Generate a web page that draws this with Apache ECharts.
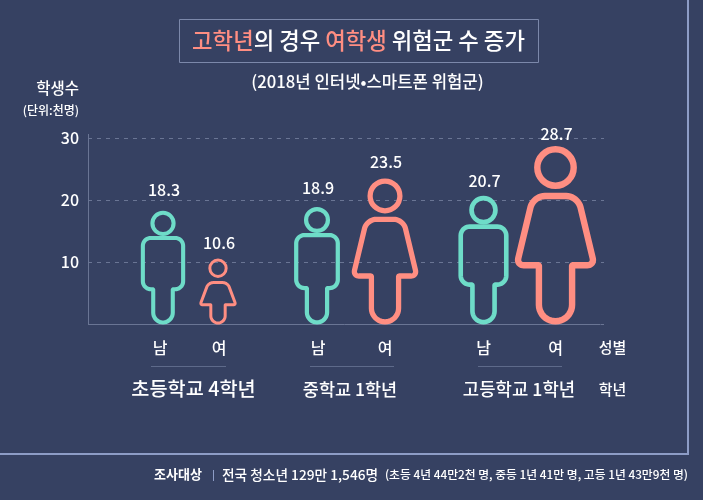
<!DOCTYPE html>
<html>
<head>
<meta charset="utf-8">
<style>
  html, body { margin: 0; padding: 0; background: #364162; }
  #chart { width: 703px; height: 500px; }
</style>
<script src="https://cdn.jsdelivr.net/npm/echarts@6/dist/echarts.min.js"></script>
</head>
<body>
<div id="chart"></div>
<script>
// data
const categories = ["초등 남", "초등 여", "중등 남", "중등 여", "고등 남", "고등 여"];
const genders = ["남", "여", "남", "여", "남", "여"];
const students = [18.3, 10.6, 18.9, 23.5, 20.7, 28.7];
const yTicks = [0, 10, 20, 30];

const FONT = '"Noto Sans CJK KR", "Noto Sans", sans-serif';
const BG = "#364162";
const MALE = "#6edcc8";
const FEMALE = "#ff8e82";
const GRID = "#6a7594";

// figures are not evenly spaced in the picture, so nudge each band center
const figureNudge = [32, 1, 14, -4, 8.5, -5.5];
const genderLabelNudge = [-3, 1, 1, 0, 0, 0];
const valueLabelLift = [21, 16, 19, 16, 15, 12];

// outlines in units of figure height, origin at bottom center, [x, y, cornerRadius]
const MALE_SHAPE = {
  color: MALE,
  head: 0.093,
  body: [
    [-0.086, 0.018, 0.086], [0.086, 0.018, 0.086], [0.086, 0.31, 0.006],
    [0.177, 0.31, 0.07], [0.177, 0.761, 0.07], [-0.177, 0.761, 0.07],
    [-0.177, 0.31, 0.07], [-0.086, 0.31, 0.006]
  ]
};
const FEMALE_SHAPE = {
  color: FEMALE,
  head: 0.102,
  body: [
    [-0.093, 0.018, 0.093], [0.093, 0.018, 0.093], [0.093, 0.332, 0.005],
    [0.218, 0.332, 0.04], [0.125, 0.72, 0.065], [-0.125, 0.72, 0.065],
    [-0.218, 0.332, 0.04], [-0.093, 0.332, 0.005]
  ]
};
// the smallest figure is drawn stockier than the other two
const GIRL_SHAPE = {
  color: FEMALE,
  head: 0.124,
  body: [
    [-0.109, 0.023, 0.109], [0.109, 0.023, 0.109], [0.109, 0.3, 0.008],
    [0.27, 0.3, 0.035], [0.145, 0.636, 0.07], [-0.145, 0.636, 0.07],
    [-0.27, 0.3, 0.035], [-0.109, 0.3, 0.008]
  ]
};
const figureShapes = [MALE_SHAPE, GIRL_SHAPE, MALE_SHAPE, FEMALE_SHAPE, MALE_SHAPE, FEMALE_SHAPE];

function roundedOutline(verts, cx, baseY, h) {
  const pts = [];
  const n = verts.length;
  const P = verts.map(v => [cx + v[0] * h, baseY - v[1] * h, v[2] * h]);
  for (let i = 0; i < n; i++) {
    const p = P[i], a = P[(i + n - 1) % n], b = P[(i + 1) % n];
    const la = Math.hypot(a[0] - p[0], a[1] - p[1]);
    const lb = Math.hypot(b[0] - p[0], b[1] - p[1]);
    const r = p[2];
    const s = [p[0] + (a[0] - p[0]) / la * r, p[1] + (a[1] - p[1]) / la * r];
    const e = [p[0] + (b[0] - p[0]) / lb * r, p[1] + (b[1] - p[1]) / lb * r];
    const c1 = [s[0] + (p[0] - s[0]) * 0.55, s[1] + (p[1] - s[1]) * 0.55];
    const c2 = [e[0] + (p[0] - e[0]) * 0.55, e[1] + (p[1] - e[1]) * 0.55];
    for (let k = 0; k <= 10; k++) {
      const t = k / 10, u = 1 - t;
      pts.push([
        u * u * u * s[0] + 3 * u * u * t * c1[0] + 3 * u * t * t * c2[0] + t * t * t * e[0],
        u * u * u * s[1] + 3 * u * u * t * c1[1] + 3 * u * t * t * c2[1] + t * t * t * e[1]
      ]);
    }
  }
  return pts;
}

function renderFigure(params, api) {
  const i = api.value(0);
  const value = api.value(1);
  const shape = figureShapes[i];
  const top = api.coord([i, value]);
  const baseY = api.coord([i, 0])[1];
  const cx = top[0] + figureNudge[i];
  const h = baseY - top[1];
  const lineWidth = Math.max(3, h * 0.036);
  const headR = shape.head * h;
  return {
    type: "group",
    children: [
      {
        type: "polygon",
        shape: { points: roundedOutline(shape.body, cx, baseY, h) },
        style: { fill: "none", stroke: shape.color, lineWidth: lineWidth }
      },
      {
        type: "circle",
        shape: { cx: cx, cy: top[1] + headR + lineWidth / 2, r: headR },
        style: { fill: "none", stroke: shape.color, lineWidth: lineWidth }
      },
      {
        type: "text",
        x: cx + 1, y: top[1] - valueLabelLift[i],
        style: { text: value.toFixed(1), fill: "#fff", font: "500 16px " + FONT, align: "center", verticalAlign: "middle" }
      },
      {
        type: "text",
        x: cx + genderLabelNudge[i], y: 347.5,
        style: { text: genders[i], fill: "#fff", font: "500 16px " + FONT, align: "center", verticalAlign: "middle" }
      }
    ]
  };
}

function label(text, x, y, size, opt) {
  return {
    type: "text", x: x, y: y,
    style: Object.assign({
      text: text, fill: "#fff", font: "500 " + size + "px " + FONT,
      align: "center", verticalAlign: "middle"
    }, opt || {})
  };
}
function rule(x1, y1, x2, y2, color, width) {
  return {
    type: "line",
    shape: { x1: x1, y1: y1, x2: x2, y2: y2 },
    style: { stroke: color, lineWidth: width || 1 }
  };
}

const chart = echarts.init(document.getElementById("chart"));
chart.setOption({
  backgroundColor: BG,
  animation: false,
  grid: { left: 88, top: 138, width: 516, height: 186.5 },
  xAxis: {
    type: "category",
    data: categories,
    axisLine: { show: false },
    axisTick: { show: false },
    axisLabel: { show: false }
  },
  yAxis: {
    type: "value",
    min: yTicks[0],
    max: yTicks[yTicks.length - 1],
    interval: 10,
    axisLine: { show: true, lineStyle: { color: GRID } },
    axisTick: { show: false },
    axisLabel: {
      color: "#fff",
      fontFamily: FONT,
      fontWeight: 500,
      fontSize: 16,
      margin: 9,
      formatter: v => (v === 0 ? "" : String(v))
    },
    splitLine: { show: true, lineStyle: { color: GRID, type: [4, 5] } }
  },
  series: [
    {
      type: "custom",
      clip: false,
      encode: { x: 0, y: 1 },
      data: students.map((v, i) => [i, v]),
      renderItem: renderFigure,
      z: 5
    }
  ],
  graphic: [
    // frame around the plot
    rule(688, 0, 688, 454, "#8d9cc6", 2),
    rule(0, 454, 689, 454, "#8d9cc6", 2),
    // baseline and top stub of the axis
    rule(88, 324.5, 600.5, 324.5, GRID),
    rule(88.5, 134, 88.5, 138, GRID),
    // title
    {
      type: "rect",
      shape: { x: 179.5, y: 19.5, width: 359, height: 43 },
      style: { fill: "none", stroke: "#7c88aa", lineWidth: 1 }
    },
    {
      type: "text", x: 358.5, y: 41,
      style: {
        text: "{hl|고학년}의 경우 {hl|여학생} 위험군 수 증가",
        fill: "#fff", font: "500 22.3px " + FONT, align: "center", verticalAlign: "middle",
        rich: { hl: { fill: FEMALE, font: "500 22.3px " + FONT } }
      }
    },
    label("(2018년 인터넷•스마트폰 위험군)", 367.5, 82, 16.7),
    label("학생수", 79, 88, 15.5, { align: "right" }),
    label("(단위:천명)", 79, 110, 12, { align: "right" }),
    // groups under the axis
    rule(151, 366.5, 226, 366.5, "#5e6a8a"),
    rule(310, 366.5, 394, 366.5, "#5e6a8a"),
    rule(478, 366.5, 562, 366.5, "#5e6a8a"),
    label("초등학교 4학년", 193.5, 389, 19.7),
    label("중학교 1학년", 350, 389, 17.5),
    label("고등학교 1학년", 519, 389, 17.8),
    label("성별", 612.5, 347.5, 15),
    label("학년", 612.5, 389, 15),
    // footer
    label("조사대상", 154, 474.5, 13, { align: "left", font: "bold 13px " + FONT }),
    rule(213.5, 470, 213.5, 481, "#8d9cc6"),
    label("전국 청소년 129만 1,546명", 222, 474.5, 13.7, { align: "left" }),
    label("(초등 4년 44만2천 명, 중등 1년 41만 명, 고등 1년 43만9천 명)", 688, 474.5, 11.8, { align: "right" })
  ]
});
</script>
</body>
</html>
